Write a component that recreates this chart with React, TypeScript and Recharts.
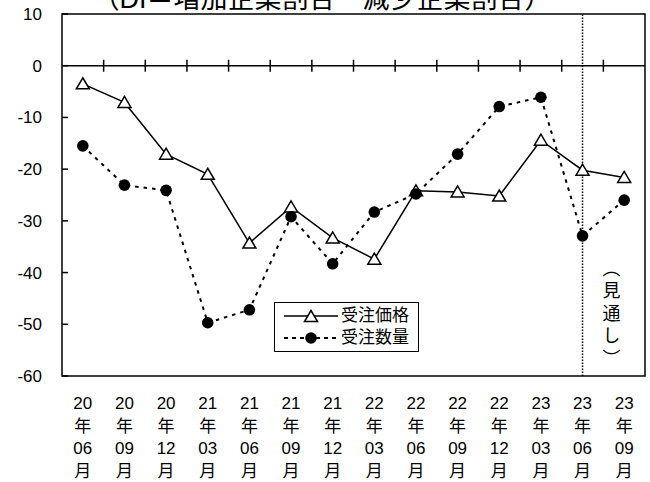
import React from 'react';
import { LineChart, Line, XAxis, YAxis, ReferenceLine, ReferenceArea, Legend } from 'recharts';

// 受注価格・受注数量 DI の推移
const periods = [
  '20年06月', '20年09月', '20年12月', '21年03月', '21年06月', '21年09月', '21年12月',
  '22年03月', '22年06月', '22年09月', '22年12月', '23年03月', '23年06月', '23年09月',
];
const priceDI = [-3.5, -7.1, -17.1, -21.0, -34.3, -27.3, -33.3, -37.4, -24.2, -24.4, -25.2, -14.4, -20.2, -21.6];
const volumeDI = [-15.5, -23.1, -24.1, -49.7, -47.2, -29.2, -38.3, -28.3, -24.8, -17.1, -7.9, -6.1, -32.9, -26.0];
const yTicks = [-60, -50, -40, -30, -20, -10, 0, 10];
const forecastFrom = '23年06月';
const forecastNote = '（見通し）';

const data = periods.map((period, i) => ({ period, price: priceDI[i], volume: volumeDI[i] }));

const FONT = "'Liberation Sans', 'Noto Sans CJK JP', sans-serif";

const Triangle = (props: any) => {
  const { cx, cy } = props;
  if (cx == null || cy == null) return null;
  return (
    <polygon
      points={`${cx},${cy - 6} ${cx - 6.5},${cy + 5} ${cx + 6.5},${cy + 5}`}
      fill="#fff"
      stroke="#000"
      strokeWidth={1.5}
    />
  );
};

// 年・月を縦に並べる
const PeriodTick = ({ x, y, payload }: any) => {
  const m = /^(\d+)年(\d+)月$/.exec(payload.value);
  const lines = m ? [m[1], '年', m[2], '月'] : [payload.value];
  return (
    <g>
      {lines.map((s, i) => (
        <text key={i} x={x} y={y + 33 + i * 22.5} textAnchor="middle" fontSize={17} fill="#000">
          {s}
        </text>
      ))}
    </g>
  );
};

// 目盛は枠の内側へ
const ValueTick = ({ x, y, payload }: any) => (
  <g>
    <line x1={x} x2={x + 6} y1={y} y2={y} stroke="#000" strokeWidth={1.5} />
    <text x={x - 20} y={y} dy={6} textAnchor="end" fontSize={17} fill="#000">
      {payload.value}
    </text>
  </g>
);

// ゼロ線と区切り目盛
const ZeroAxis = (props: any) => {
  const { x1, x2, y1 } = props;
  const step = (x2 - x1) / periods.length;
  return (
    <g>
      <line x1={x1} x2={x2} y1={y1} y2={y1} stroke="#000" strokeWidth={1.5} />
      {periods.slice(1).map((_, i) => {
        const tx = x1 + step * (i + 1);
        return <line key={i} x1={tx} x2={tx} y1={y1 - 6} y2={y1 + 6} stroke="#000" strokeWidth={1.5} />;
      })}
    </g>
  );
};

const LegendBox = ({ payload }: any) => (
  <div
    style={{
      border: '1px solid #000',
      background: '#fff',
      width: 145,
      padding: '2px 0',
      boxSizing: 'border-box',
      fontFamily: FONT,
      color: '#000',
    }}
  >
    {(payload || []).map((e: any) => {
      const dashed = e.dataKey === 'volume';
      return (
        <div key={e.dataKey} style={{ display: 'flex', alignItems: 'center', height: 22 }}>
          <svg width={66} height={16} style={{ display: 'block' }}>
            <line
              x1={9}
              x2={63}
              y1={8}
              y2={8}
              stroke="#000"
              strokeWidth={dashed ? 2 : 1.5}
              strokeDasharray={dashed ? '4 4' : undefined}
            />
            {dashed ? <circle cx={36} cy={8} r={5.8} fill="#000" /> : <Triangle cx={36} cy={8.5} />}
          </svg>
          <span style={{ fontSize: 17, lineHeight: '22px' }}>{e.value}</span>
        </div>
      );
    })}
  </div>
);

// 見通し期間の縦書き注記
const ForecastLabel = (props: any) => {
  const vb = props.viewBox || {};
  return (
    <text
      x={vb.x + 29}
      y={vb.y + 245}
      fontSize={18}
      letterSpacing={4.5}
      fill="#000"
      fontFamily="'Noto Sans CJK JP', sans-serif"
      style={{ writingMode: 'vertical-rl' } as any}
    >
      {forecastNote}
    </text>
  );
};

export default function App() {
  return (
    <div style={{ position: 'absolute', left: 0, top: 0, width: 650, height: 482, fontFamily: FONT, overflow: 'hidden' }}>
      <div
        style={{
          position: 'absolute',
          left: 0,
          top: -14,
          width: 644,
          textAlign: 'center',
          fontSize: 27,
          lineHeight: '27px',
          color: '#000',
          whiteSpace: 'nowrap',
        }}
      >
        （DI＝増加企業割合－減少企業割合）
      </div>
      <LineChart width={650} height={482} data={data} margin={{ top: 14, right: 5, bottom: 6, left: 0 }}>
        <XAxis
          dataKey="period"
          scale="band"
          height={100}
          axisLine={false}
          tickLine={false}
          tickSize={0}
          tickMargin={0}
          interval={0}
          tick={<PeriodTick />}
        />
        <YAxis
          domain={[-60, 10]}
          ticks={yTicks}
          width={62}
          axisLine={false}
          tickLine={false}
          tickSize={0}
          tickMargin={0}
          tick={<ValueTick />}
        />
        <ReferenceArea y1={-60} y2={10} fill="none" stroke="#000" strokeWidth={1.5} ifOverflow="visible" />
        <ReferenceLine y={0} shape={<ZeroAxis />} />
        <ReferenceLine
          x={forecastFrom}
          stroke="#000"
          strokeWidth={1.5}
          strokeDasharray="1.5 1.5"
          label={<ForecastLabel />}
        />
        <Legend
          layout="vertical"
          align="center"
          verticalAlign="middle"
          content={<LegendBox />}
          wrapperStyle={{ left: 274, top: 302, width: 145 }}
        />
        <Line
          dataKey="price"
          name="受注価格"
          stroke="#000"
          strokeWidth={1.5}
          dot={<Triangle />}
          activeDot={false}
          isAnimationActive={false}
        />
        <Line
          dataKey="volume"
          name="受注数量"
          stroke="#000"
          strokeWidth={2}
          strokeDasharray="3.5 5"
          dot={{ r: 5.8, fill: '#000', stroke: '#000', strokeWidth: 0 }}
          activeDot={false}
          isAnimationActive={false}
        />
      </LineChart>
    </div>
  );
}
